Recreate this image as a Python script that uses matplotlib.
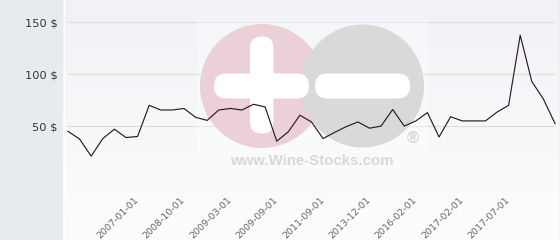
import numpy as np
import matplotlib
matplotlib.use("Agg")
import matplotlib.pyplot as plt
from matplotlib.patches import Circle, FancyBboxPatch, Rectangle
from matplotlib.lines import Line2D
import matplotlib.transforms as mtransforms

# price per month (category axis, labels shown every 4th point)
prices = [45, 37.5, 21, 38, 47, 39, 40, 70, 65.5, 65.5, 67, 58.5, 55.5, 65.5,
          67, 65.5, 71, 68.5, 35.5, 44.5, 60.5, 54, 38, 44, 49.5, 54, 48, 50,
          66, 50, 55, 63, 39.5, 59, 55, 55, 55, 63.5, 70, 137.5, 93, 76, 52.5]
tick_idx = [6, 10, 14, 18, 22, 26, 30, 34, 38]
tick_labels = ["2007-01-01", "2008-10-01", "2009-03-01", "2009-09-01", "2011-09-01",
               "2013-12-01", "2016-02-01", "2017-02-01", "2017-07-01"]
y_ticks = [50, 100, 150]

W, H = 560, 240
fig = plt.figure(figsize=(W / 100, H / 100), dpi=100)
fig.patch.set_facecolor("#e8ebee")

# plot panel background (soft vertical gradient)
bg = fig.add_axes([63 / W, 0, (W - 63) / W, 1])
grad = np.linspace(0, 1, 256).reshape(-1, 1)
cmap = matplotlib.colors.LinearSegmentedColormap.from_list("bg", ["#f0f2f5", "#fdfdfe"])
bg.imshow(grad, aspect="auto", cmap=cmap, extent=[0, 1, 0, 1], origin="upper")
bg.set_axis_off()

ax = fig.add_axes([68 / W, 1 - 178 / H, (555 - 68) / W, (178 - 22.3) / H])
ax.patch.set_alpha(0)
x = np.arange(len(prices))
ax.set_xlim(0, len(prices) - 1)
ax.set_ylim(0, 150)

for v in [0] + y_ticks:
    ax.axhline(v, color="#dcdcdc", lw=0.8, zorder=0)

# watermark in pixel coords (y from top)
px = mtransforms.Affine2D().scale(1 / W, -1 / H).translate(0, 1) + fig.transFigure
wm = [
    Rectangle((197, 20), 231, 155, facecolor="white", edgecolor="none", alpha=0.3),
    Circle((262, 86), 62, facecolor="#ebd0d7", edgecolor="none"),
    Circle((362.5, 86), 61.5, facecolor="#d9d9d9", edgecolor="none"),
    FancyBboxPatch((250, 36.5), 23.5, 97, boxstyle="round,pad=0,rounding_size=11.7",
                   facecolor="white", edgecolor="none"),
    FancyBboxPatch((214, 73.5), 95, 25, boxstyle="round,pad=0,rounding_size=12.5",
                   facecolor="white", edgecolor="none"),
    FancyBboxPatch((315, 73.5), 95, 25, boxstyle="round,pad=0,rounding_size=12.5",
                   facecolor="white", edgecolor="none"),
]
for p in wm:
    p.set_transform(px)
    p.set_clip_on(False)
    p.set_zorder(1)
    ax.add_patch(p)
ax.text(312, 161, "www.Wine-Stocks.com", transform=px, ha="center", va="center",
        fontsize=10.8, fontweight="bold", family="Liberation Sans", color="#d8d8d8", zorder=1)
ax.text(413, 138.5, "\u00ae", transform=px, ha="center", va="center",
        fontsize=12, fontweight="bold", family="Liberation Sans", color="#d6d6d6", zorder=1)

ax.plot(x, prices, color="#2e1a24", lw=0.85, zorder=3, clip_on=False)

for s in ax.spines.values():
    s.set_visible(False)
ax.set_yticks(y_ticks)
ax.set_yticklabels([f"{v} $" for v in y_ticks], fontsize=8.2, color="#333333")
ax.tick_params(axis="y", length=0, pad=7.2)
ax.set_xticks(tick_idx)
ax.set_xticklabels(tick_labels, fontsize=6.8, color="#666666", rotation=45,
                   ha="right", va="top", rotation_mode="anchor")
ax.tick_params(axis="x", length=0, pad=12.2)
shift = mtransforms.ScaledTranslation(-3.5 / 100, 0, fig.dpi_scale_trans)
for lab in ax.get_xticklabels():
    lab.set_transform(lab.get_transform() + shift)

# thin separators
fig.add_artist(Line2D([63.5 / W] * 2, [0, 1], color="white", lw=0.8))
fig.add_artist(Line2D([559.5 / W] * 2, [0, 1], color="#a8a8a8", lw=0.8))

fig.savefig("out.png", dpi=100, facecolor=fig.get_facecolor())
